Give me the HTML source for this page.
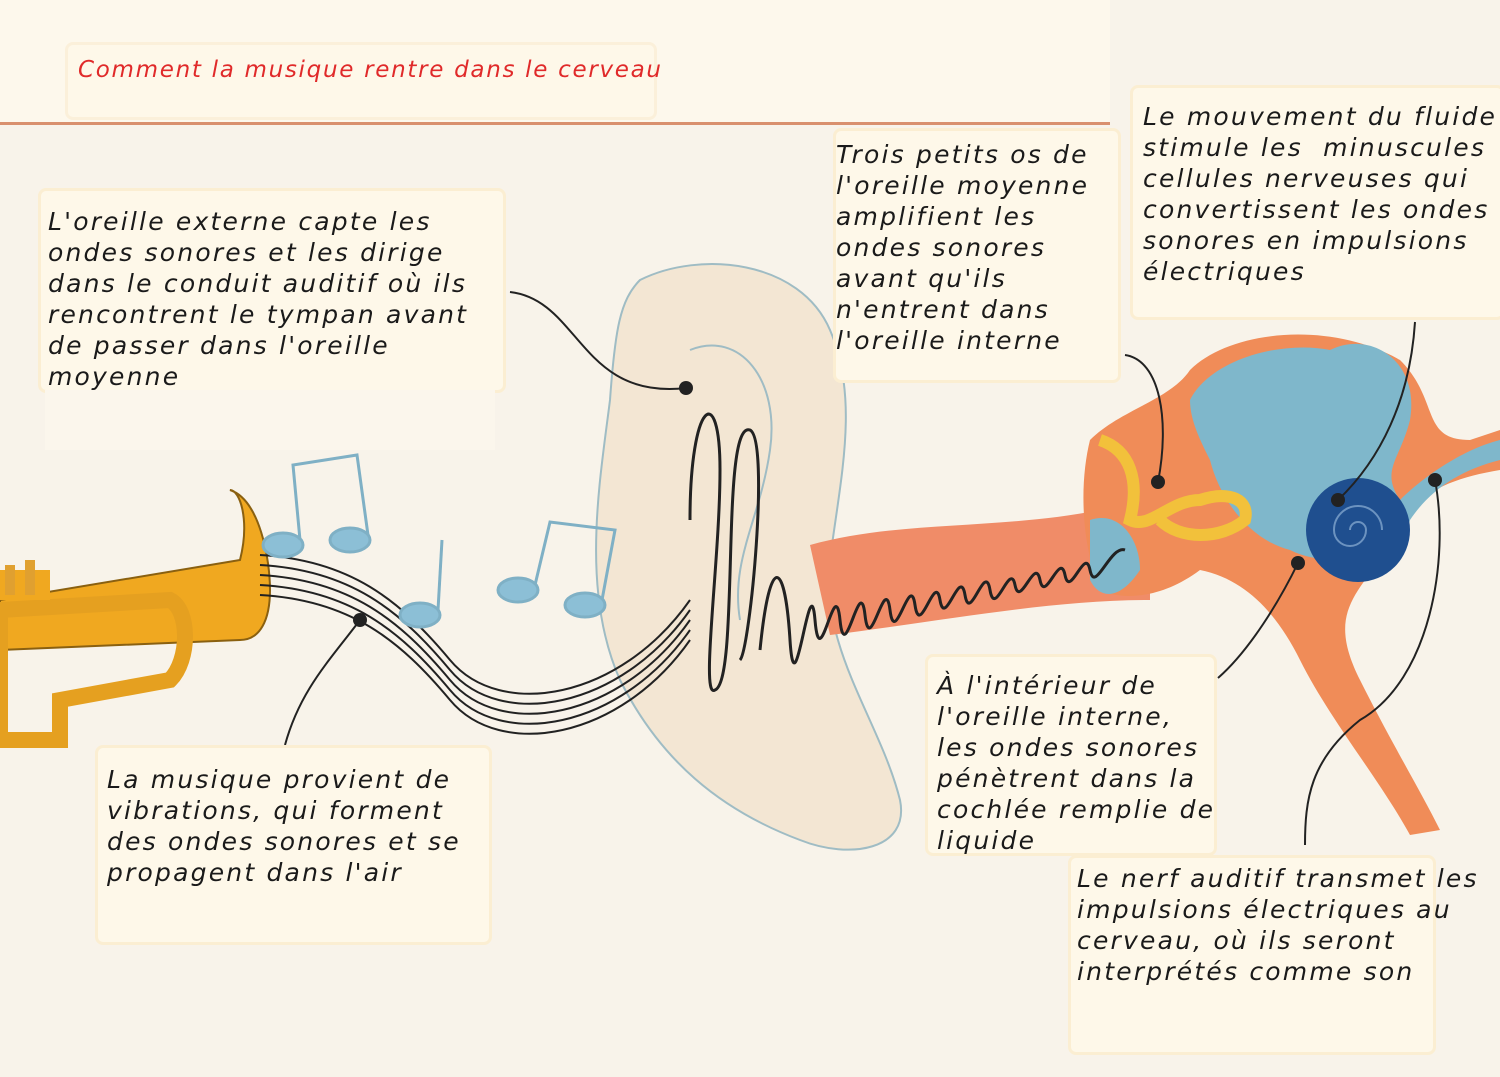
<!DOCTYPE html>
<html><head><meta charset="utf-8"><style>
body{margin:0;width:1500px;height:1077px;background:#f8f3ea;position:relative;overflow:hidden;font-family:"DejaVu Sans","Liberation Sans",sans-serif;}
.b{position:absolute;background:#fef8e9;border:3px solid #fbeed2;border-radius:8px;box-sizing:border-box;}
.t{position:absolute;font-style:italic;font-size:25px;line-height:31px;color:#1a1a1a;white-space:pre;letter-spacing:2.2px;}
svg{position:absolute;left:0;top:0}
</style></head><body>
<div style="position:absolute;left:0;top:0;width:1110px;height:122px;background:#fdf8ec"></div>
<div class="b" style="left:65px;top:42px;width:592px;height:78px;border-color:#fbf0da"></div>
<div class="t" style="left:78px;top:55px;color:#e02a2a;font-size:23px;letter-spacing:1.7px">Comment la musique rentre dans le cerveau</div>
<div style="position:absolute;left:0;top:122px;width:1110px;height:3px;background:#d9906e"></div>

<svg width="1500" height="1077" viewBox="0 0 1500 1077">
 <path d="M640 280 C700 250 800 260 830 330 C860 400 840 480 830 560 C820 650 880 720 900 800 C910 850 850 860 800 840 C720 810 660 760 620 680 C580 590 600 480 610 400 C615 330 620 300 640 280Z" fill="#f3e6d3" stroke="#9fbcc4" stroke-width="2"/>
 <path d="M690 350 C740 330 780 380 770 450 C760 520 730 560 740 620" fill="none" stroke="#9fbcc4" stroke-width="2"/>
 <path d="M810 545 C900 520 1000 530 1100 510 L1150 500 L1150 600 C1050 600 950 620 830 635 Z" fill="#f08c68"/>
 <path d="M1090 440 C1120 410 1170 400 1190 370 C1230 330 1330 320 1400 360 C1440 400 1420 440 1470 440 L1500 430 L1500 470 C1440 480 1400 500 1380 560 C1350 600 1330 620 1360 680 C1390 740 1420 790 1440 830 L1410 835 C1380 780 1330 720 1300 660 C1280 620 1250 580 1200 570 C1160 600 1120 600 1100 590 C1080 540 1080 480 1090 440Z" fill="#f08c58"/>
 <path d="M1190 400 C1210 360 1280 340 1330 350 C1370 330 1420 360 1410 420 C1400 460 1380 470 1400 500 C1420 480 1460 450 1500 440 L1500 460 C1460 470 1430 490 1410 520 C1400 560 1330 570 1290 550 C1250 540 1220 500 1210 460 C1200 440 1190 420 1190 400Z" fill="#7fb7cb"/>
 <circle cx="1358" cy="530" r="52" fill="#1f4f8f"/>
 <path d="M1358 530 m-8 0 a8 8 0 1 1 16 0 a16 16 0 1 1 -32 0 a24 24 0 1 1 48 0" fill="none" stroke="#6c93c0" stroke-width="2"/>
 <path d="M1100 440 C1130 450 1140 480 1130 520 C1150 530 1170 500 1200 500 C1230 490 1250 500 1245 520 C1220 540 1180 540 1160 520" fill="none" stroke="#f2c13b" stroke-width="12"/>
 <path d="M1090 520 C1120 510 1140 540 1140 570 C1120 600 1100 600 1090 580 Z" fill="#7fb7cb"/>
 <path d="M0 600 L240 560 C250 520 240 490 230 490 C260 500 270 560 270 590 C270 620 260 640 240 640 L0 650Z" fill="#f0a820" stroke="#8a6010" stroke-width="2"/>
 <path d="M0 610 L170 600 C190 610 190 660 170 680 L60 700 L60 740 L0 740Z" fill="none" stroke="#e5a020" stroke-width="16"/>
 <rect x="0" y="570" width="50" height="30" fill="#f0a820"/>
 <rect x="5" y="565" width="10" height="30" fill="#e0a030"/><rect x="25" y="560" width="10" height="35" fill="#e0a030"/>
 <g fill="none" stroke="#222" stroke-width="2">
  <path d="M260 555 C350 560 400 600 450 660 C500 720 620 700 690 600"/>
  <path d="M260 565 C350 570 400 610 450 670 C500 730 620 710 690 610"/>
  <path d="M260 575 C350 580 400 620 450 680 C500 740 620 720 690 620"/>
  <path d="M260 585 C350 590 400 630 450 690 C500 750 620 730 690 630"/>
  <path d="M260 595 C350 600 400 640 450 700 C500 760 620 740 690 640"/>
 </g>
 <path d="M690 520 C690 400 720 380 720 470 C720 560 700 700 715 690 C740 680 720 420 750 430 C770 440 750 650 740 660" fill="none" stroke="#222" stroke-width="3"/>
 <path d="M760 650 C770 550 785 560 790 640 S810 560 815 620 S835 570 840 620 S860 570 865 615 S885 570 890 610 S910 570 915 605 S935 570 940 600 S960 565 965 595 S985 560 990 590 S1010 560 1015 585 S1035 555 1040 580 S1060 550 1065 575 S1085 545 1090 570 S1110 545 1125 550" fill="none" stroke="#222" stroke-width="3"/>
 <g fill="#8cbfd6" stroke="#7fb0c5" stroke-width="3">
  <ellipse cx="283" cy="545" rx="20" ry="12"/><ellipse cx="350" cy="540" rx="20" ry="12"/>
  <path d="M300 540 L293 465 L357 455 L368 535" fill="none"/>
  <ellipse cx="420" cy="615" rx="20" ry="12"/><path d="M438 610 L442 540" fill="none"/>
  <ellipse cx="518" cy="590" rx="20" ry="12"/><ellipse cx="585" cy="605" rx="20" ry="12"/>
  <path d="M535 585 L550 522 L615 530 L602 600" fill="none"/>
 </g>
 <g fill="none" stroke="#222" stroke-width="2">
  <path d="M510 292 C580 300 580 400 686 388"/>
  <path d="M360 620 C330 660 300 690 285 745"/>
  <path d="M1125 355 C1160 360 1170 420 1158 482"/>
  <path d="M1415 322 C1410 400 1380 460 1338 500"/>
  <path d="M1298 563 C1280 600 1250 650 1218 678"/>
  <path d="M1435 480 C1450 560 1430 680 1360 720 C1310 760 1305 800 1305 845"/>
 </g>
 <g fill="#222"><circle cx="686" cy="388" r="7"/><circle cx="360" cy="620" r="7"/><circle cx="1158" cy="482" r="7"/><circle cx="1338" cy="500" r="7"/><circle cx="1298" cy="563" r="7"/><circle cx="1435" cy="480" r="7"/></g>
</svg>

<div class="b" style="left:38px;top:188px;width:468px;height:205px"></div>
<div style="position:absolute;left:45px;top:390px;width:450px;height:60px;background:#fbf6ec"></div>
<div class="t" style="left:48px;top:206px">L'oreille externe capte les
ondes sonores et les dirige
dans le conduit auditif où ils
rencontrent le tympan avant
de passer dans l'oreille
moyenne</div>

<div class="b" style="left:833px;top:128px;width:288px;height:255px"></div>
<div class="t" style="left:836px;top:139px">Trois petits os de
l'oreille moyenne
amplifient les
ondes sonores
avant qu'ils
n'entrent dans
l'oreille interne</div>

<div class="b" style="left:1130px;top:85px;width:375px;height:235px"></div>
<div class="t" style="left:1143px;top:101px">Le mouvement du fluide
stimule les  minuscules
cellules nerveuses qui
convertissent les ondes
sonores en impulsions
électriques</div>

<div class="b" style="left:925px;top:654px;width:292px;height:202px"></div>
<div class="t" style="left:937px;top:670px">À l'intérieur de
l'oreille interne,
les ondes sonores
pénètrent dans la
cochlée remplie de
liquide</div>

<div class="b" style="left:95px;top:745px;width:397px;height:200px"></div>
<div class="t" style="left:107px;top:764px">La musique provient de
vibrations, qui forment
des ondes sonores et se
propagent dans l'air</div>

<div class="b" style="left:1068px;top:855px;width:368px;height:200px"></div>
<div class="t" style="left:1077px;top:863px">Le nerf auditif transmet les
impulsions électriques au
cerveau, où ils seront
interprétés comme son</div>
</body></html>
